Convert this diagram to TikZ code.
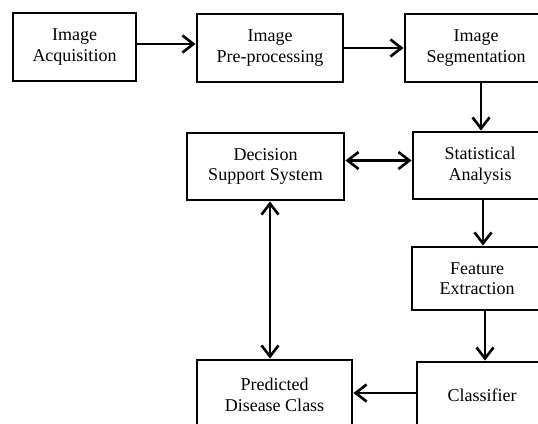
\documentclass[tikz,border=0pt]{standalone}
\usepackage{fontspec}
\setmainfont{Liberation Serif}
\usetikzlibrary{arrows.meta}
\begin{document}
\begin{tikzpicture}[x=1pt,y=1pt,
  box/.style={draw=black, line width=2.9pt, rectangle, inner sep=0pt, align=center,
    font=\fontsize{18}{20.5}\selectfont},
  tip/.style={Straight Barb[length=11pt,width=17pt,line width=2.6pt]},
  arr/.style={line width=2.6pt, -{Straight Barb[length=11pt,width=17pt,line width=2.6pt]}},
  darr/.style={line width=2.6pt, {Straight Barb[length=11pt,width=17pt,line width=2.6pt]}-{Straight Barb[length=11pt,width=17pt,line width=2.6pt]}}]
\path[use as bounding box, clip] (0,0) rectangle (538,-423);
\node[box, minimum width=123pt, minimum height=68pt] (A) at (74.5,-47) {Image\\Acquisition};
\node[box, minimum width=146pt, minimum height=68pt] (B) at (270,-48) {Image\\Pre-processing};
\node[box, minimum width=142pt, minimum height=68pt] (C) at (476,-48) {Image\\Segmentation};
\node[box, minimum width=157pt, minimum height=67pt] (D) at (265.5,-166.5) {Decision\\Support System};
\node[box, minimum width=134pt, minimum height=67pt] (E) at (480,-165.5) {Statistical\\Analysis};
\node[box, minimum width=130pt, minimum height=63pt] (F) at (477,-278.5) {Feature\\Extraction};
\node[box, minimum width=130pt, minimum height=66pt] (G) at (482,-395) {Classifier};
\node[box, minimum width=155pt, minimum height=70pt] (H) at (274.5,-395) {Predicted\\Disease Class};
\draw[arr] ([yshift=3pt]A.east) -- ([yshift=3pt]A.east -| B.west);
\draw[arr] (B.east) -- (B.east -| C.west);
\draw[arr] ([xshift=5pt]C.south) -- ([xshift=5pt]C.south |- E.north);
\draw[darr] ([yshift=6pt]D.east) -- ([yshift=6pt]D.east -| E.west);
\draw[arr] ([xshift=3pt]E.south) -- ([xshift=3pt]E.south |- F.north);
\draw[arr] ([xshift=8pt]F.south) -- ([xshift=8pt]F.south |- G.north);
\draw[darr] ([xshift=4.5pt]D.south) -- ([xshift=4.5pt]D.south |- H.north);
\draw[arr] ([yshift=2pt]G.west) -- ([yshift=2pt]G.west -| H.east);
\end{tikzpicture}
\end{document}
